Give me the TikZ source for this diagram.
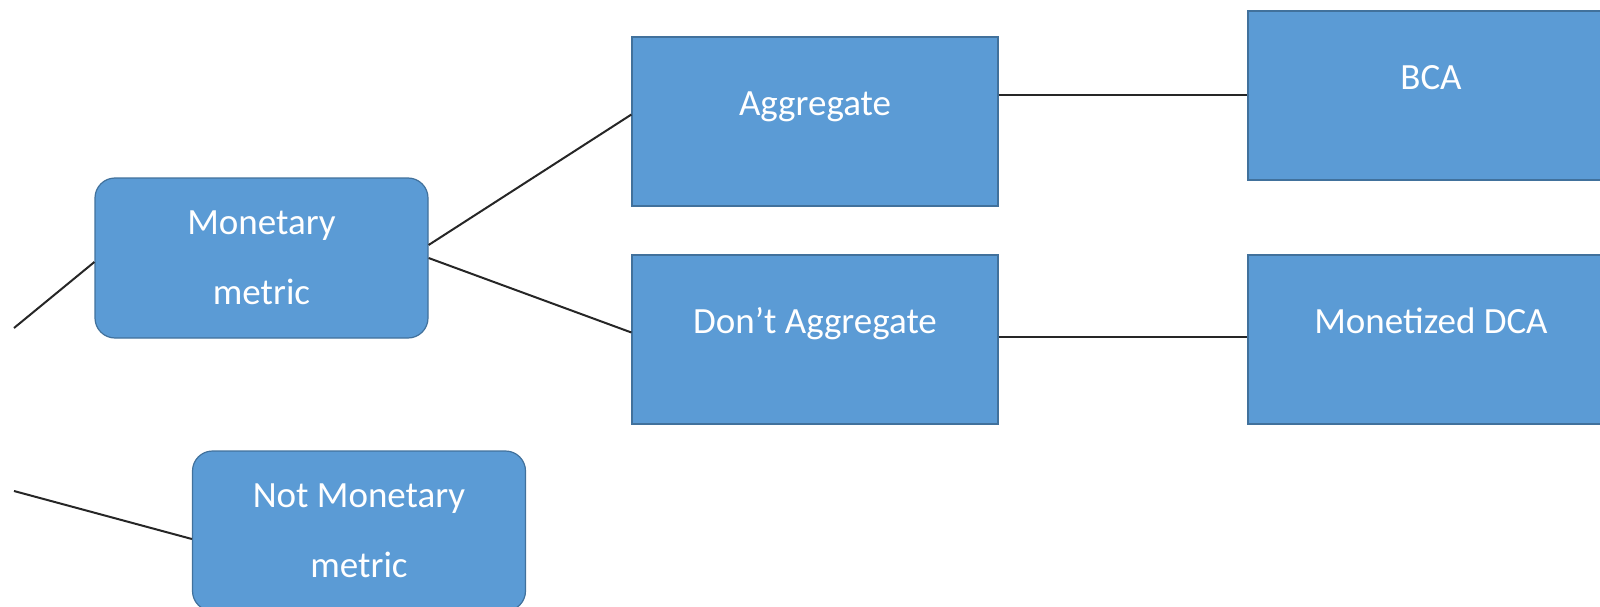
\documentclass[tikz,border=0pt]{standalone}
\usepackage{fontspec}
\setmainfont{Carlito}
\definecolor{boxfill}{HTML}{5B9BD5}
\definecolor{boxline}{HTML}{41719C}
\tikzset{
  box/.style={draw=boxline, line width=1.2pt, fill=boxfill, text=white, inner sep=0pt,
    minimum width=366pt, minimum height=169pt, font=\fontsize{37}{70}\selectfont},
  raised/.style={text height=25pt, text depth=37pt},
  roundbox/.style={box, rounded corners=20pt, minimum width=333pt, minimum height=160pt, align=center},
  link/.style={draw=black!85, line width=2pt}
}

\begin{document}
\begin{tikzpicture}[x=1pt, y=-1pt]
		\clip (0,0) rectangle (1600,607);
		\node[roundbox] (mon) at (261.5,258)   {Monetary\\metric};
		\node[roundbox] (notmon) at (359,531)  {Not Monetary\\metric};
		\node[box, raised] (agg) at (815,121.5)  {Aggregate};
		\node[box, raised] (dontagg) at (815,339.5) {Don’t Aggregate};
		\node[box, raised] (bca) at (1431,95.5)  {BCA};
		\node[box, raised] (mdca) at (1431,339.5) {Monetized DCA};
		% loose ends on the left
		\coordinate (in1) at (14,328);
		\coordinate (in2) at (14,491);
		\draw[link] (in1) -- ([yshift=-4pt]mon.west);
		\draw[link] (in2) -- ([yshift=-8pt]notmon.west);
		\draw[link] ([yshift=13pt]mon.east) -- ([yshift=7pt]agg.west);
		\draw[link] (mon.east) -- ([yshift=7pt]dontagg.west);
		\draw[link] (agg.east |- bca.west) -- (bca.west);
		\draw[link] ([yshift=2.5pt]dontagg.east |- mdca.west) -- ([yshift=2.5pt]mdca.west);
		\end{tikzpicture}
\end{document}
